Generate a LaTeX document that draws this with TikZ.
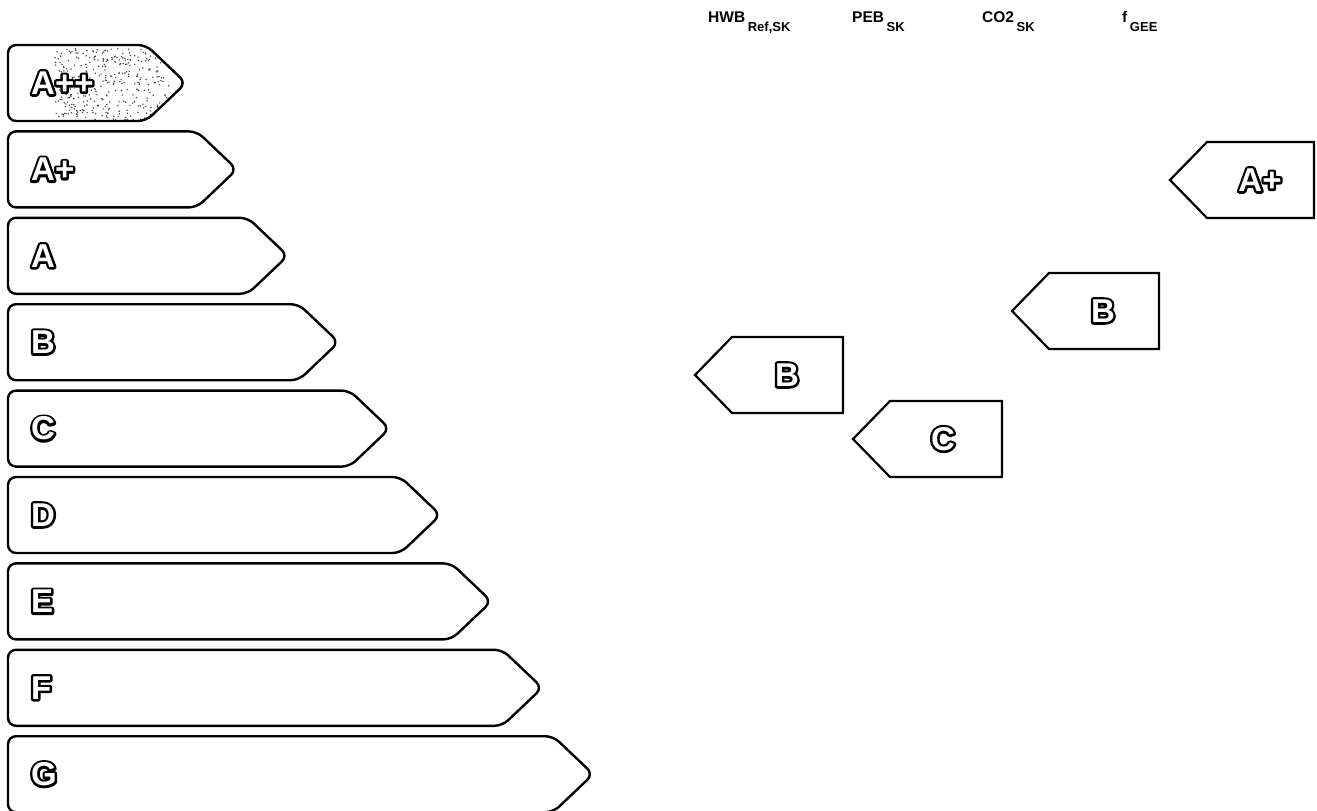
\documentclass[tikz,border=0pt]{standalone}
\usepackage{fontspec}
\setmainfont{Liberation Sans}

% Letra hueca: trazo negro ancho debajo, relleno blanco encima
\newcommand{\hueco}[1]{\rlap{\special{pdf:literal direct 1 Tr 4.8 w 1 j 0 G}#1\special{pdf:literal direct 0 Tr 0.4 w}}{\color{white}#1}}
% Cabecera con subindice
\newcommand{\cab}[2]{\textbf{#1}\,\raisebox{-9.5pt}{\fontsize{13}{13}\selectfont\textbf{#2}}}

\begin{document}
\begin{tikzpicture}[line cap=round, line join=round, x=1pt, y=-1pt,
		barra/.style={draw=black, line width=2.4pt, rounded corners=8pt},
		flecha/.style={draw=black, line width=2.2pt, line join=miter},
		clase/.style={font=\fontsize{33}{33}\selectfont\bfseries, inner sep=0pt},
		titulo/.style={font=\fontsize{15.5}{15.5}\selectfont, anchor=base west, inner sep=0pt}]
		
		\useasboundingbox (0,0) rectangle (1317,811);
		
		% Punteado de la clase A++
		\begin{scope}
			\clip[rounded corners=8pt] (8,45) -- (146,45) -- (186,83) -- (146,121) -- (8,121) -- cycle;
			\pgfmathsetseed{7}
			\foreach \k in {1,...,380}{
				\pgfmathsetmacro{\px}{55+115*rnd}
				\pgfmathsetmacro{\py}{48+75*rnd}
				\fill[black!75] (\px,\py) circle[radius=0.8pt];
			}
		\end{scope}
		
		% Escala de clases
		\foreach \g [count=\i from 0] in {A++,A+,A,B,C,D,E,F,G}{
			\pgfmathsetmacro{\yt}{45+86.4*\i}
			\pgfmathsetmacro{\yb}{\yt+76}
			\pgfmathsetmacro{\yc}{\yt+38}
			\pgfmathsetmacro{\xp}{186+50.9*\i}
			\pgfmathsetmacro{\xq}{\xp-40}
			\draw[barra] (8,\yt) -- (\xq,\yt) -- (\xp,\yc) -- (\xq,\yb) -- (8,\yb) -- cycle;
			\node[clase, anchor=west] (g\i) at (31,\yc) {\hueco{\g}};
		}
		
		% Cabeceras
		\node[titulo] (hwb) at (708,22) {\cab{HWB}{Ref,SK}};
		\node[titulo] (peb) at (852,22) {\cab{PEB}{SK}};
		\node[titulo] (co2) at (982,22) {\cab{CO2}{SK}};
		\node[titulo] (fgee) at (1122,22) {\cab{f}{GEE}};
		
		% Indicadores
		\foreach \tip/\yc/\der/\cl/\lx/\nom in {695/375/843/B/787/hwb, 853/439/1002/C/943/peb, 1012/311/1159/B/1103/co2, 1170/180/1314/A+/1260/fgee}{
			\draw[flecha] (\tip,\yc) -- (\tip+37,\yc-38) -- (\der,\yc-38) -- (\der,\yc+38) -- (\tip+37,\yc+38) -- cycle;
			\node[clase] (\nom-cl) at (\lx,\yc) {\hueco{\cl}};
		}
		
	\end{tikzpicture}
\end{document}
